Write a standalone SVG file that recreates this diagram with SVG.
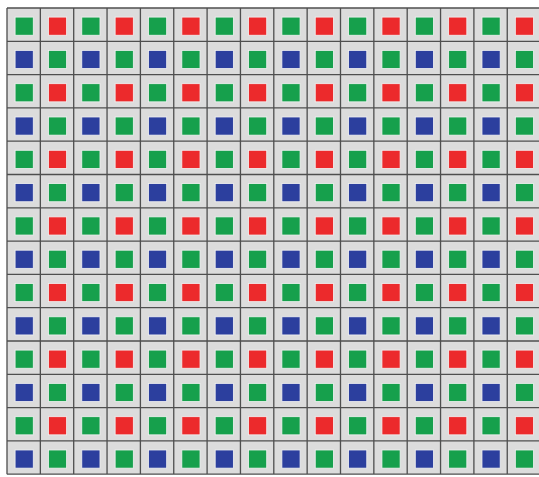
<svg xmlns="http://www.w3.org/2000/svg" xmlns:xlink="http://www.w3.org/1999/xlink" width="539" height="477" viewBox="0 0 539 477">
<style>
.g{fill:#16a04c}
.r{fill:#ec2a2c}
.b{fill:#2c3f9e}
.sq{stroke:#f2f2f2;stroke-width:0.8}
.grid{fill:none;stroke:#4f4f4f;stroke-width:1.3}
</style>
<defs>
<g id="rowA" class="sq">
<rect class="g" x="8" y="9" width="18" height="18"/><rect class="r" x="41" y="9" width="18" height="18"/><rect class="g" x="74" y="9" width="18" height="18"/><rect class="r" x="107" y="9" width="18" height="18"/><rect class="g" x="140" y="9" width="18" height="18"/><rect class="r" x="173" y="9" width="18" height="18"/><rect class="g" x="206" y="9" width="18" height="18"/><rect class="r" x="239" y="9" width="18" height="18"/><rect class="g" x="272" y="9" width="18" height="18"/><rect class="r" x="305" y="9" width="18" height="18"/><rect class="g" x="338" y="9" width="18" height="18"/><rect class="r" x="371" y="9" width="18" height="18"/><rect class="g" x="404" y="9" width="18" height="18"/><rect class="r" x="437" y="9" width="18" height="18"/><rect class="g" x="470" y="9" width="18" height="18"/><rect class="r" x="503" y="9" width="18" height="18"/>
</g>
<g id="rowB" class="sq">
<rect class="b" x="8" y="9" width="18" height="18"/><rect class="g" x="41" y="9" width="18" height="18"/><rect class="b" x="74" y="9" width="18" height="18"/><rect class="g" x="107" y="9" width="18" height="18"/><rect class="b" x="140" y="9" width="18" height="18"/><rect class="g" x="173" y="9" width="18" height="18"/><rect class="b" x="206" y="9" width="18" height="18"/><rect class="g" x="239" y="9" width="18" height="18"/><rect class="b" x="272" y="9" width="18" height="18"/><rect class="g" x="305" y="9" width="18" height="18"/><rect class="b" x="338" y="9" width="18" height="18"/><rect class="g" x="371" y="9" width="18" height="18"/><rect class="b" x="404" y="9" width="18" height="18"/><rect class="g" x="437" y="9" width="18" height="18"/><rect class="b" x="470" y="9" width="18" height="18"/><rect class="g" x="503" y="9" width="18" height="18"/>
</g>
</defs>
<rect x="0" y="0" width="539" height="477" fill="#ffffff"/>
<g transform="translate(7 8) scale(1.0106 1.0091)">
<rect x="0" y="0" width="540" height="462" fill="#dcdcdc"/>
<use xlink:href="#rowA" y="0"/>
<use xlink:href="#rowB" y="33"/>
<use xlink:href="#rowA" y="66"/>
<use xlink:href="#rowB" y="99"/>
<use xlink:href="#rowA" y="132"/>
<use xlink:href="#rowB" y="165"/>
<use xlink:href="#rowA" y="198"/>
<use xlink:href="#rowB" y="231"/>
<use xlink:href="#rowA" y="264"/>
<use xlink:href="#rowB" y="297"/>
<use xlink:href="#rowA" y="330"/>
<use xlink:href="#rowB" y="363"/>
<use xlink:href="#rowA" y="396"/>
<use xlink:href="#rowB" y="429"/>
<path class="grid" d="M0 0V462M33 0V462M66 0V462M99 0V462M132 0V462M165 0V462M198 0V462M231 0V462M264 0V462M297 0V462M330 0V462M363 0V462M396 0V462M429 0V462M462 0V462M495 0V462M528 0V462M0 0H540M0 33H540M0 66H540M0 99H540M0 132H540M0 165H540M0 198H540M0 231H540M0 264H540M0 297H540M0 330H540M0 363H540M0 396H540M0 429H540M0 462H540"/>
</g>
</svg>
